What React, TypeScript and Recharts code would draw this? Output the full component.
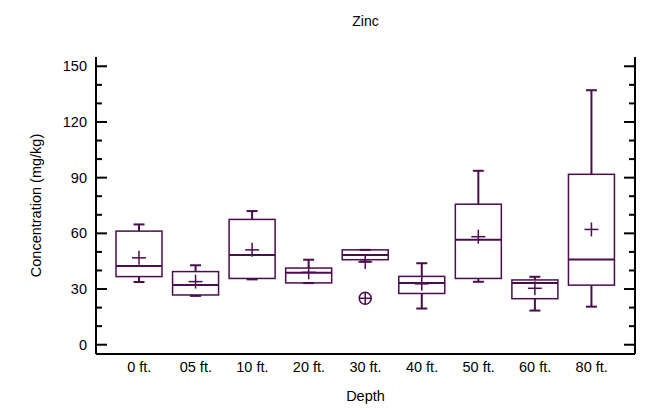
import React from 'react';
import { ComposedChart, Bar, XAxis, YAxis } from 'recharts';

const depths = ['0 ft.', '05 ft.', '10 ft.', '20 ft.', '30 ft.', '40 ft.', '50 ft.', '60 ft.', '80 ft.'];
const mins = [33.8, 26.3, 35.2, 33.2, 44.8, 19.5, 33.9, 18.4, 20.5];
const q1s = [36.7, 26.8, 35.7, 33.3, 45.8, 27.6, 35.7, 24.8, 32.1];
const medians = [42.4, 32.2, 48.4, 38.8, 48.4, 33.3, 56.6, 33.3, 45.9];
const q3s = [61.2, 39.4, 67.5, 41.3, 51.1, 36.8, 75.7, 34.9, 91.8];
const maxs = [64.8, 42.8, 72.0, 45.8, 51.1, 43.9, 93.7, 36.6, 137.1];
const means = [46.8, 34.0, 51.1, 39.0, 44.6, 32.8, 58.2, 30.4, 62.1];
const outliers: number[][] = [[], [], [], [], [25.0], [], [], [], []];

const yTicks = [0, 10, 20, 30, 40, 50, 60, 70, 80, 90, 100, 110, 120, 130, 140, 150];

const data = depths.map((depth, i) => ({
  depth,
  min: mins[i],
  q1: q1s[i],
  median: medians[i],
  q3: q3s[i],
  max: maxs[i],
  mean: means[i],
  outliers: outliers[i],
}));

const PURPLE = '#4b0c4f';
const FONT = '"Liberation Sans", Arial, sans-serif';

// box drawn from the range bar [q1, q3]; other values mapped with the same px/unit
const BoxShape = (props: any) => {
  const { x, y, width, height, payload } = props;
  const { min, q1, median, q3, max, mean } = payload;
  const k = height / (q3 - q1);
  const py = (v: number) => y + (q3 - v) * k;
  const cx = x + width / 2;
  const cap = 5.5;
  const pl = 7;
  return (
    <g stroke={PURPLE} fill="none">
      <line x1={cx} x2={cx} y1={py(max)} y2={py(q3)} strokeWidth={2} />
      <line x1={cx} x2={cx} y1={py(q1)} y2={py(min)} strokeWidth={2} />
      <line x1={cx - cap} x2={cx + cap} y1={py(max)} y2={py(max)} strokeWidth={2} />
      <line x1={cx - cap} x2={cx + cap} y1={py(min)} y2={py(min)} strokeWidth={2} />
      <rect x={x} y={y} width={width} height={height} strokeWidth={1.5} />
      <line x1={x} x2={x + width} y1={py(median)} y2={py(median)} strokeWidth={2} />
      <line x1={cx - pl} x2={cx + pl} y1={py(mean)} y2={py(mean)} strokeWidth={1.5} />
      <line x1={cx} x2={cx} y1={py(mean) - pl} y2={py(mean) + pl} strokeWidth={1.5} />
      {payload.outliers.map((o: number, j: number) => (
        <g key={j}>
          <circle cx={cx} cy={py(o)} r={6} strokeWidth={1.5} />
          <line x1={cx - 6} x2={cx + 6} y1={py(o)} y2={py(o)} strokeWidth={1.5} />
          <line x1={cx} x2={cx} y1={py(o) - 6} y2={py(o) + 6} strokeWidth={1.5} />
        </g>
      ))}
    </g>
  );
};

const LeftTick = (props: any) => {
  const { x, y, payload } = props;
  const v = payload.value;
  const major = v % 30 === 0;
  const ax = x + 9;
  return (
    <g>
      <line x1={ax} x2={ax + (major ? 11 : 6)} y1={y} y2={y} stroke="#000" strokeWidth={2} />
      {major && (
        <text x={x} y={y} dy={5} textAnchor="end" fontSize={14.5} fontFamily={FONT} fill="#000">
          {v}
        </text>
      )}
    </g>
  );
};

const RightTick = (props: any) => {
  const { x, y, payload } = props;
  const major = payload.value % 30 === 0;
  return <line x1={x} x2={x - (major ? 11 : 6)} y1={y} y2={y} stroke="#000" strokeWidth={2} />;
};

export default function App() {
  return (
    <div style={{ position: 'absolute', left: 0, top: 0, width: 647, height: 419, background: '#fff', fontFamily: FONT }}>
      <div style={{ position: 'absolute', left: 96, width: 539, top: 13, textAlign: 'center', fontSize: 14, color: '#000' }}>
        Zinc
      </div>
      <ComposedChart width={647} height={419} data={data} margin={{ top: 57, right: 0, bottom: 15, left: 26 }}>
        <XAxis
          dataKey="depth"
          padding={{ left: 15, right: 15 }}
          tickLine={false}
          tickSize={0}
          tickMargin={8}
          height={50}
          axisLine={{ stroke: '#000', strokeWidth: 2 }}
          tick={{ fill: '#000', fontSize: 14.5, fontFamily: FONT }}
          interval={0}
          label={{ value: 'Depth', position: 'insideBottom', offset: 3, fill: '#000', fontSize: 14.5, fontFamily: FONT }}
        />
        <XAxis xAxisId="top" orientation="top" dataKey="depth" tick={false} tickLine={false} height={0} axisLine={{ stroke: '#000', strokeWidth: 2 }} />
        <YAxis
          yAxisId="left"
          domain={[-5, 155]}
          ticks={yTicks}
          interval={0}
          width={70}
          tickLine={false}
          tickSize={0}
          tickMargin={9}
          axisLine={{ stroke: '#000', strokeWidth: 2 }}
          tick={<LeftTick />}
          allowDataOverflow
          label={{
            value: 'Concentration (mg/kg)',
            angle: -90,
            position: 'insideLeft',
            offset: 10,
            fill: '#000',
            fontSize: 14.5,
            fontFamily: FONT,
            style: { textAnchor: 'middle' },
          }}
        />
        <YAxis
          yAxisId="right"
          orientation="right"
          domain={[-5, 155]}
          ticks={yTicks}
          interval={0}
          width={12}
          tickLine={false}
          tickSize={0}
          tickMargin={0}
          axisLine={{ stroke: '#000', strokeWidth: 2 }}
          tick={<RightTick />}
          allowDataOverflow
        />
        <Bar
          yAxisId="left"
          dataKey={(d: any) => [d.q1, d.q3]}
          barSize={46}
          shape={<BoxShape />}
          isAnimationActive={false}
        />
      </ComposedChart>
    </div>
  );
}
